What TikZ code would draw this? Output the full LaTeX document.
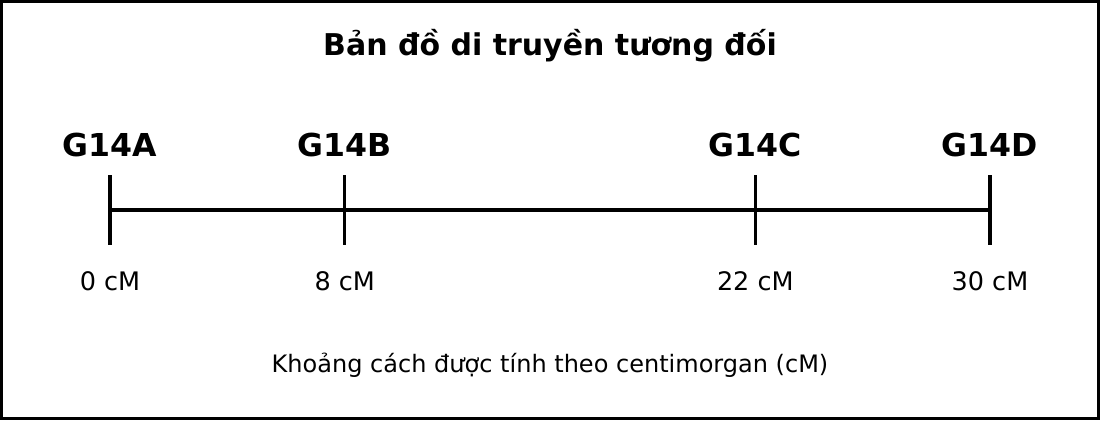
\documentclass[tikz,border=0pt]{standalone}
\usepackage{fontspec}
\setmainfont{DejaVu Sans}
\begin{document}
\begin{tikzpicture}[x=1bp,y=-1bp,
  frame/.style={draw=black,line width=3bp},
  titletext/.style={font=\fontsize{30.1}{35}\selectfont\bfseries,anchor=center},
  genetext/.style={font=\fontsize{31.7}{36}\selectfont\bfseries,anchor=center},
  postext/.style={font=\fontsize{25.6}{30}\selectfont,anchor=center},
  notetext/.style={font=\fontsize{24.1}{29}\selectfont,anchor=center},
  axisline/.style={line width=4.5bp},
  tickline/.style={line width=3.5bp}]
\useasboundingbox (0,0) rectangle (1100,420);
\draw[frame] (1.5,1.5) rectangle (1098.5,418.5);
\node[titletext] (title) at (550,46) {Bản đồ di truyền tương đối};
% ticks
\coordinate (aT) at (110,175); \coordinate (aB) at (110,245); \coordinate (a) at (110,210);
\coordinate (bT) at (344.7,175); \coordinate (bB) at (344.7,245); \coordinate (b) at (344.7,210);
\coordinate (cT) at (755.3,175); \coordinate (cB) at (755.3,245); \coordinate (c) at (755.3,210);
\coordinate (dT) at (990,175); \coordinate (dB) at (990,245); \coordinate (d) at (990,210);
\draw[axisline] (a) -- (d);
\draw[tickline] (aT) -- (aB);
\draw[tickline] (bT) -- (bB);
\draw[tickline] (cT) -- (cB);
\draw[tickline] (dT) -- (dB);
\node[genetext] (ga) at (110,145) {G14A};
\node[genetext] (gb) at (344.7,145) {G14B};
\node[genetext] (gc) at (755.3,145) {G14C};
\node[genetext] (gd) at (990,145) {G14D};
\node[postext] (pa) at (110,281) {0 cM};
\node[postext] (pb) at (344.7,281) {8 cM};
\node[postext] (pc) at (755.3,281) {22 cM};
\node[postext] (pd) at (990,281) {30 cM};
\node[notetext] (note) at (550,365) {Khoảng cách được tính theo centimorgan (cM)};
\end{tikzpicture}
\end{document}
